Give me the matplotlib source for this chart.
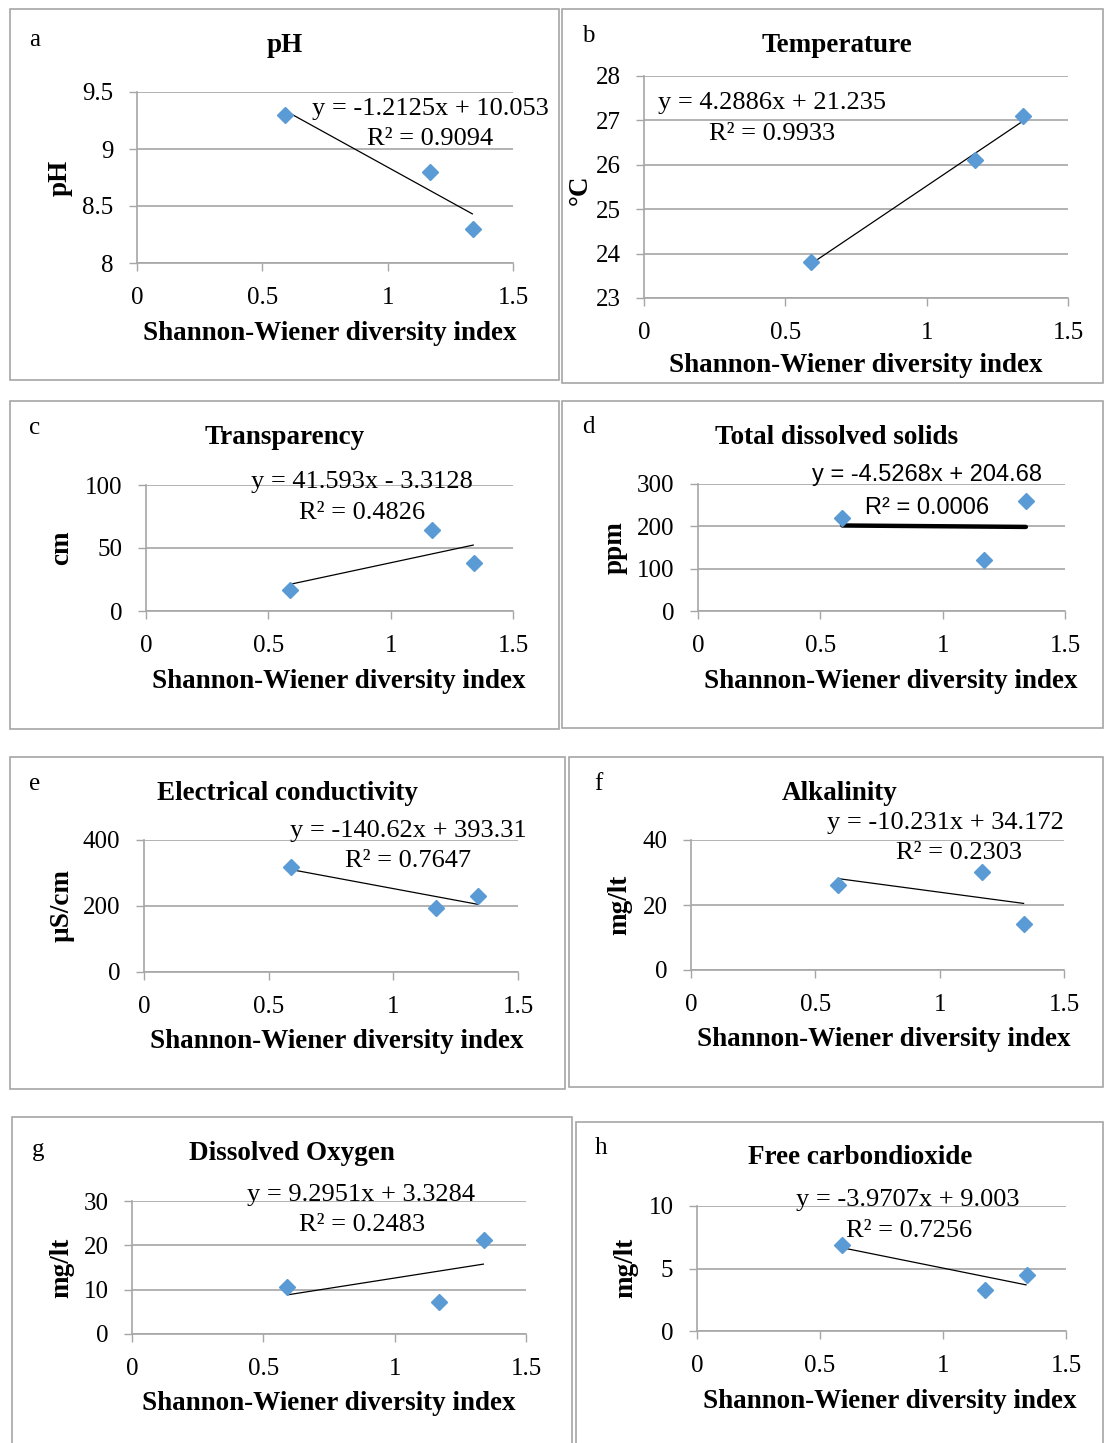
import matplotlib
matplotlib.use('Agg')
import matplotlib.pyplot as plt
from matplotlib.patches import Rectangle
from matplotlib.ticker import FuncFormatter

W, H = 1104, 1443

shannon = [0.59, 1.17, 1.34]
ph = [9.3, 8.8, 8.3]
temperature = [23.8, 26.1, 27.1]
transparency = [17, 64, 38]
tds = [220, 120, 260]
conductivity = [318, 194, 230]
alkalinity = [26.2, 30.2, 14.2]
dissolved_oxygen = [10.6, 7.2, 21.2]
free_co2 = [6.9, 3.3, 4.5]

letters = ['a', 'b', 'c', 'd', 'e', 'f', 'g', 'h']
titles = ['pH', 'Temperature', 'Transparency', 'Total dissolved solids',
          'Electrical conductivity', 'Alkalinity', 'Dissolved Oxygen', 'Free carbondioxide']
ylabels = ['pH', '°C', 'cm', 'ppm', 'µS/cm', 'mg/lt', 'mg/lt', 'mg/lt']
series = [ph, temperature, transparency, tds, conductivity, alkalinity, dissolved_oxygen, free_co2]
slopes = [-1.2125, 4.2886, 41.593, -4.5268, -140.62, -10.231, 9.2951, -3.9707]
intercepts = [10.053, 21.235, -3.3128, 204.68, 393.31, 34.172, 3.3284, 9.003]
equations = ['y = -1.2125x + 10.053', 'y = 4.2886x + 21.235', 'y = 41.593x - 3.3128',
             'y = -4.5268x + 204.68', 'y = -140.62x + 393.31', 'y = -10.231x + 34.172',
             'y = 9.2951x + 3.3284', 'y = -3.9707x + 9.003']
r2_labels = ['R² = 0.9094', 'R² = 0.9933', 'R² = 0.4826', 'R² = 0.0006',
             'R² = 0.7647', 'R² = 0.2303', 'R² = 0.2483', 'R² = 0.7256']
yticks = [[8, 8.5, 9, 9.5], [23, 24, 25, 26, 27, 28], [0, 50, 100], [0, 100, 200, 300],
          [0, 200, 400], [0, 20, 40], [0, 10, 20, 30], [0, 5, 10]]
xticks = [0, 0.5, 1, 1.5]

# layout in pixels: box, axes (x0, x1, ytop, ybot), text anchors
boxes = [(10, 9, 559, 380), (562, 9, 1103, 383), (10, 401, 559, 729), (562, 401, 1103, 728),
         (10, 757, 565, 1089), (569, 757, 1103, 1087), (12, 1117, 572, 1446), (576, 1122, 1103, 1446)]
axpos = [(137, 513, 92, 263), (644, 1068, 76, 298), (146, 513, 485, 611), (698, 1065, 484, 611),
         (144, 518, 840, 972), (691, 1064, 840, 970), (132, 526, 1201, 1334), (697, 1066, 1206, 1331)]
title_pos = [(285, 46), (837, 46), (285, 438), (837, 438), (287, 794), (840, 794), (292, 1153), (860, 1158)]
letter_pos = [(35, 40), (588, 36), (35, 428), (588, 427), (35, 784), (598, 784), (38, 1150), (601, 1148)]
ylab_pos = [(60, 178), (580, 190), (62, 548), (615, 548), (62, 906), (620, 905), (62, 1268), (626, 1268)]
xlab_pos = [(330, 333), (856, 366), (339, 682), (891, 681), (337, 1042), (884, 1040), (329, 1404), (890, 1402)]
eq_pos = [(430, 107, 430, 137), (772, 101, 772, 132), (362, 480, 362, 511), (927, 473, 927, 506),
          (408, 829, 408, 859), (945, 821, 959, 851), (361, 1193, 362, 1223), (908, 1198, 909, 1229)]

plt.rcParams['font.family'] = ['Liberation Serif', 'DejaVu Serif']
grey = '#a6a6a6'
blue = '#5b9bd5'

fig = plt.figure(figsize=(W / 100, H / 100), dpi=100)


def fx(x):
    return x / W


def fy(y):
    return 1 - y / H


for i in range(8):
    bx0, by0, bx1, by1 = boxes[i]
    fig.patches.append(Rectangle((fx(bx0), fy(by1)), fx(bx1 - bx0), (by1 - by0) / H,
                                 transform=fig.transFigure, fill=False, ec=grey, lw=1.2))
    x0, x1, yt, yb = axpos[i]
    ax = fig.add_axes([fx(x0), fy(yb), fx(x1 - x0), (yb - yt) / H])
    yt_vals = yticks[i]
    ax.set_xlim(0, 1.5)
    ax.set_ylim(yt_vals[0], yt_vals[-1])
    ax.set_xticks(xticks)
    ax.set_yticks(yt_vals)
    fmt = FuncFormatter(lambda v, p: f'{v:g}')
    ax.xaxis.set_major_formatter(fmt)
    ax.yaxis.set_major_formatter(fmt)
    ax.tick_params(direction='out', length=6, width=1, color=grey, labelsize=18, pad=11)
    for s in ['top', 'right']:
        ax.spines[s].set_visible(False)
    for s in ['left', 'bottom']:
        ax.spines[s].set_color(grey)
        ax.spines[s].set_linewidth(1.2)
    ax.yaxis.grid(True, color=grey, lw=1.2)
    ax.set_axisbelow(True)

    ys = series[i]
    xl = [min(shannon), max(shannon)]
    yl = [slopes[i] * v + intercepts[i] for v in xl]
    ax.plot(xl, yl, color='black', lw=3.2 if i == 3 else 0.9, zorder=2,
            solid_capstyle='round' if i == 3 else 'butt')
    ax.plot(shannon, ys, 'D', ms=8.5, color=blue, mec=blue, zorder=3, clip_on=False)

    tx, ty = title_pos[i]
    fig.text(fx(tx), fy(ty), titles[i], ha='center', va='center', fontsize=19.5, fontweight='bold')
    lx, ly = letter_pos[i]
    fig.text(fx(lx), fy(ly), letters[i], ha='center', va='center', fontsize=18)
    yx, yy = ylab_pos[i]
    fig.text(fx(yx), fy(yy), ylabels[i], ha='center', va='center', fontsize=19.5,
             fontweight='bold', rotation=90)
    xx, xy = xlab_pos[i]
    fig.text(fx(xx), fy(xy), 'Shannon-Wiener diversity index', ha='center', va='center',
             fontsize=19.5, fontweight='bold')
    e1x, e1y, e2x, e2y = eq_pos[i]
    if i == 3:
        kw = dict(fontsize=17, family=['Liberation Sans', 'DejaVu Sans'])
    else:
        kw = dict(fontsize=19)
    fig.text(fx(e1x), fy(e1y + 2), equations[i], ha='center', va='center', **kw)
    fig.text(fx(e2x), fy(e2y + 2), r2_labels[i], ha='center', va='center', **kw)

fig.savefig('out.png', dpi=100)
